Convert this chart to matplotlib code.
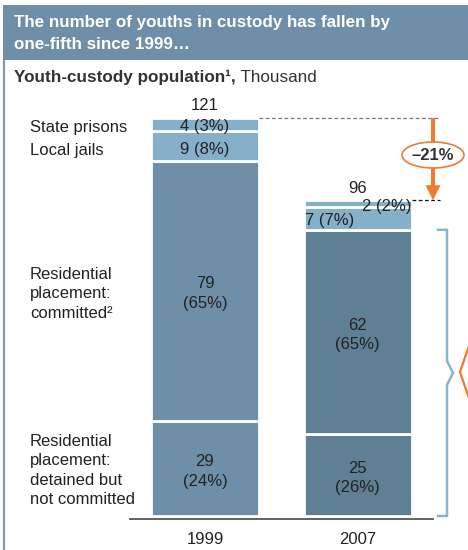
import matplotlib
matplotlib.use('Agg')
import matplotlib.pyplot as plt
from matplotlib.patches import Rectangle, Ellipse, FancyArrow
import numpy as np

plt.rcParams['font.family'] = ['Liberation Sans', 'DejaVu Sans']

# ---- data ----
years = ['1999', '2007']
values_1999 = [29, 79, 9, 4]
values_2007 = [25, 62, 7, 2]
pct_1999 = [24, 65, 8, 3]
pct_2007 = [26, 65, 7, 2]
totals = [121, 96]
change_label = '\u201321%'
seg_labels = ['Residential\nplacement:\ndetained but\nnot committed',
              'Residential\nplacement:\ncommitted\u00b2',
              'Local jails',
              'State prisons']
title_lines = ['The number of youths in custody has fallen by', 'one-fifth since 1999\u2026']
subtitle_bold = 'Youth-custody population\u00b9,'
subtitle_rest = ' Thousand'

# ---- styles ----
W, H = 468, 550
c_title = '#6f8fa8'
c_border = '#7f9db3'
c_1999 = '#6e8fa7'
c_2007 = '#5f7f94'
c_light = '#86afc9'
c_orange = '#f07a30'
c_text = '#222222'
fs = 12
ls_multi = 1.37

fig = plt.figure(figsize=(W / 100, H / 100), dpi=100)

# pixel overlay for frame decoration
ov = fig.add_axes([0, 0, 1, 1])
ov.set_xlim(0, W)
ov.set_ylim(H, 0)
ov.axis('off')
ov.add_patch(Rectangle((3, 5), W - 3, 55, facecolor=c_title, edgecolor='none'))
ov.plot([4, 4], [60, H], color=c_border, lw=1.6)
ov.text(14, 22, title_lines[0], color='white', fontsize=12.25, fontweight='bold', va='center', ha='left')
ov.text(14, 44.5, title_lines[1], color='white', fontsize=12.25, fontweight='bold', va='center', ha='left')
t1 = ov.text(14, 77, subtitle_bold, color='#333333', fontsize=12.3, fontweight='bold', va='center', ha='left')
ov.annotate(subtitle_rest, xy=(1, 0.5), xycoords=t1, va='center', ha='left', fontsize=12.3, color='#333333')
ov.plot([130, 433], [519, 519], color='#555555', lw=1.3)
ov.plot([476, 460, 476], [325, 372, 419], color=c_orange, lw=1.6, clip_on=True)

# data axes, mapped onto the figure
cx0, sx = 205.0, 152.5
by0, sy = 516.0, 398.0 / 121
ax = fig.add_axes([0, 0, 1, 1], zorder=2)
ax.patch.set_alpha(0)
ax.set_xlim(-cx0 / sx, (W - cx0) / sx)
ax.set_ylim((by0 - H) / sy, by0 / sy)
ax.axis('off')

def px(n):
    """pixel offset -> data units (vertical)"""
    return n / sy

bw = 108 / sx
x = np.arange(len(years))
series = [values_1999, values_2007]
pcts = [pct_1999, pct_2007]
main_colors = [c_1999, c_2007]

for i, (vals, pc) in enumerate(zip(series, pcts)):
    bottoms = np.concatenate([[0], np.cumsum(vals)[:-1]])
    cols = [main_colors[i], main_colors[i], c_light, c_light]
    ax.bar([x[i]] * len(vals), vals, bottom=bottoms, width=bw, color=cols,
           edgecolor='white', linewidth=2.0, zorder=2)
    mids = bottoms + np.array(vals) / 2
    for k in range(2):
        ax.text(x[i], mids[k] - px(3), f'{vals[k]}\n({pc[k]}%)', ha='center', va='center',
                fontsize=fs, color=c_text, zorder=3, linespacing=ls_multi)
    if i == 0:
        ax.text(x[i], mids[2] - px(3.5), f'{vals[2]} ({pc[2]}%)', ha='center', va='center',
                fontsize=fs, color=c_text, zorder=3)
        ax.text(x[i], mids[3] - px(1.5), f'{vals[3]} ({pc[3]}%)', ha='center', va='center',
                fontsize=fs, color=c_text, zorder=3)
    else:
        ax.text(x[i] + bw / 2, mids[3] - px(3), f'{vals[3]} ({pc[3]}%)', ha='right', va='center',
                fontsize=fs, color=c_text, zorder=3)
        ax.text(x[i] - bw / 2 + 0.01, mids[2] - px(2.5), f'{vals[2]} ({pc[2]}%)', ha='left', va='center',
                fontsize=fs, color=c_text, zorder=3)
    ax.text(x[i], totals[i] + px(12), str(totals[i]), ha='center', va='center',
            fontsize=fs, color=c_text)
    ax.text(x[i], -px(23), years[i], ha='center', va='center', fontsize=fs, color=c_text)

# segment labels on the left (aligned with 1999 segments)
b99 = np.concatenate([[0], np.cumsum(values_1999)[:-1]])
m99 = b99 + np.array(values_1999) / 2
lx = (30 - cx0) / sx
label_dy = [-2, -3, -5, -3]
for k, lab in enumerate(seg_labels):
    ax.text(lx, m99[k] + px(label_dy[k]), lab, ha='left', va='center', fontsize=fs,
            color=c_text, linespacing=ls_multi)

# change arrow
xa = (433 - cx0) / sx
# dashed reference lines
ax.plot([x[0] + bw / 2, (438 - cx0) / sx], [totals[0], totals[0]], ls=(0, (3, 2)), color='#777777', lw=0.9)
ax.plot([x[1] + bw / 2, (440 - cx0) / sx], [totals[1], totals[1]], ls=(0, (3, 2)), color='#111111', lw=0.9)

hl = px(15)
ax.add_patch(FancyArrow(xa, totals[0], 0, totals[1] - totals[0], width=4 / sx,
                        head_width=15 / sx, head_length=hl, length_includes_head=True,
                        color=c_orange, zorder=3, lw=0))
ym = totals[0] - px(37)
ax.add_patch(Ellipse((xa, ym), 62 / sx, px(26), facecolor='white', edgecolor=c_orange,
                     lw=1.2, zorder=4))
ax.text(xa, ym, change_label, ha='center', va='center', fontsize=fs, fontweight='bold',
        color='#333333', zorder=5)

# bracket around 2007 residential placement
res07 = values_2007[0] + values_2007[1]
bx0, bx1, bx2 = (438 - cx0) / sx, (447 - cx0) / sx, (453 - cx0) / sx
mid = res07 / 2
d = px(12)
ax.plot([bx0, bx1, bx1, bx2, bx1, bx1, bx0],
        [res07, res07, mid + d, mid, mid - d, 0, 0], color='#8ab4cf', lw=1.8, zorder=3)

fig.savefig('out.png', dpi=100)
